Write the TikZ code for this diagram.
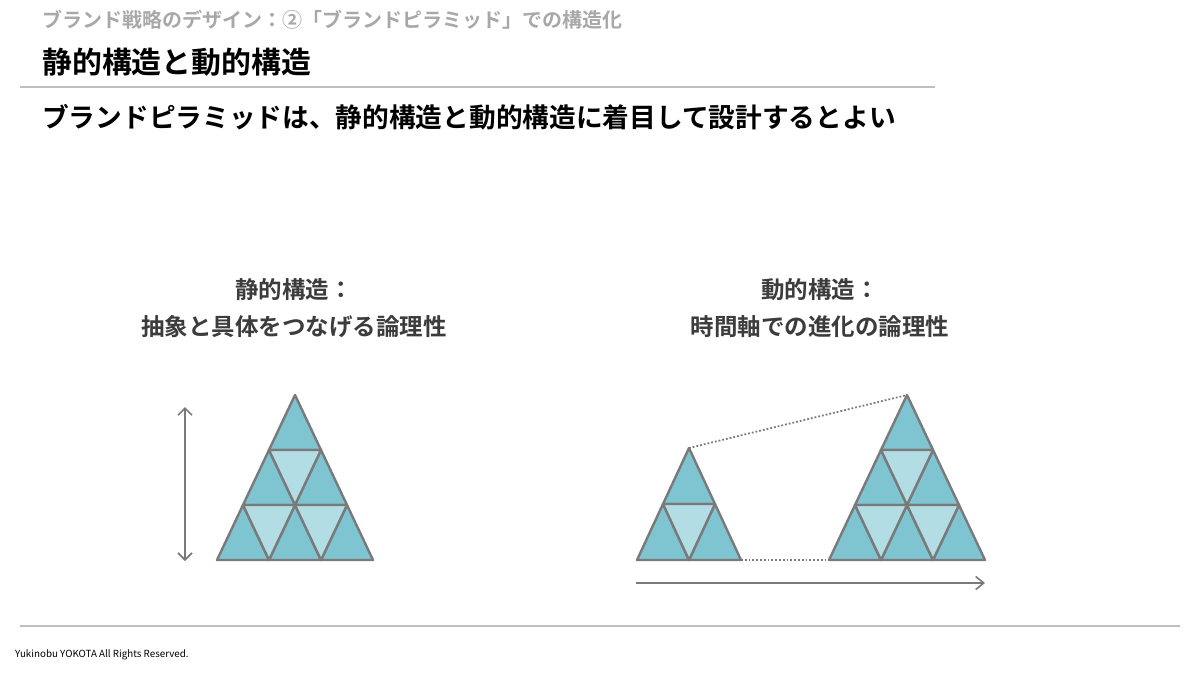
\documentclass[tikz,border=0pt]{standalone}
\usepackage{fontspec}
\setmainfont{Noto Sans CJK JP}[BoldFont={Noto Sans CJK JP Bold}]
\usetikzlibrary{arrows.meta}
\definecolor{tridark}{HTML}{7FC4D1}
\definecolor{trilight}{HTML}{B2DDE4}
\definecolor{triedge}{HTML}{7A7A7A}
\definecolor{headgray}{HTML}{A8A8A8}
\definecolor{rulegray}{HTML}{BFBFBF}
\definecolor{labelgray}{HTML}{3C3C3C}

\begin{document}
\begin{tikzpicture}[x=1pt, y=-1pt,
    cell/.style={draw=triedge, line width=2.4pt, line join=round},
    axis/.style={draw=triedge, line width=1.6pt,
        arrows={Straight Barb[length=7pt,width=14pt]-Straight Barb[length=7pt,width=14pt]}},
    gap/.style={draw=triedge, line width=1.8pt, dotted},
    rule/.style={draw=rulegray, line width=2pt},
    label/.style={font=\bfseries\fontsize{23.5}{30}\selectfont, text=labelgray, inner sep=0pt}]
\useasboundingbox (0, 0) rectangle (1200, 675);
\node[anchor=west, inner sep=0pt, text=headgray, font=\bfseries\fontsize{20}{24}\selectfont]
    (head) at (42, 20) {ブランド戦略のデザイン：②「ブランドピラミッド」での構造化};
\node[anchor=west, inner sep=0pt, font=\bfseries\fontsize{29.9}{34}\selectfont]
    (title) at (42, 62) {静的構造と動的構造};
\draw[rule] (20, 87) -- (935, 87);
\node[anchor=west, inner sep=0pt, font=\bfseries\fontsize{26.7}{32}\selectfont]
    (lead) at (42, 117) {ブランドピラミッドは、静的構造と動的構造に着目して設計するとよい};
\node[label] (static) at (294, 290) {静的構造：};
\node[label] (staticsub) at (294, 327) {抽象と具体をつなげる論理性};
\node[label] (dynamic) at (820, 290) {動的構造：};
\node[label] (dynamicsub) at (820, 327) {時間軸での進化の論理性};
\foreach \ax/\ay/\n in {295/395/3, 689/448/2, 907/395/3}
    \foreach \r in {1, ..., \n}
    {
    \foreach \k in {1, ..., \r}
        \draw[cell, fill=tridark] ({\ax+(2*\k-\r-1)*26}, {\ay+(\r-1)*(560-\ay)/\n})
            -- ({\ax+(2*\k-\r-2)*26}, {\ay+\r*(560-\ay)/\n})
            -- ({\ax+(2*\k-\r)*26}, {\ay+\r*(560-\ay)/\n}) -- cycle;
    \ifnum\r>1
    \foreach \k in {2, ..., \r}
        \draw[cell, fill=trilight] ({\ax+(2*\k-\r-3)*26}, {\ay+(\r-1)*(560-\ay)/\n})
            -- ({\ax+(2*\k-\r-1)*26}, {\ay+(\r-1)*(560-\ay)/\n})
            -- ({\ax+(2*\k-\r-2)*26}, {\ay+\r*(560-\ay)/\n}) -- cycle;
    \fi
    }
\coordinate (smalltop) at (689, 448);
\coordinate (smallright) at (741, 560);
\coordinate (bigtop) at (907, 395);
\coordinate (bigleft) at (829, 560);
\draw[gap] (smalltop) -- (bigtop);
\draw[gap] (smallright) -- (bigleft);
\coordinate (heighttop) at (185, 407);
\coordinate (heightbottom) at (185, 561);
\draw[axis] (heighttop) -- (heightbottom);
\coordinate (timestart) at (636, 583);
\coordinate (timeend) at (985, 583);
\draw[axis, arrows={-Straight Barb[length=8pt,width=13pt]}] (timestart) -- (timeend);
\draw[rule] (20, 626) -- (1180, 626);
\node[anchor=west, inner sep=0pt, font=\fontsize{9.8}{12}\selectfont]
    (footer) at (15, 655) {Yukinobu YOKOTA All Rights Reserved.};
\end{tikzpicture}
\end{document}
